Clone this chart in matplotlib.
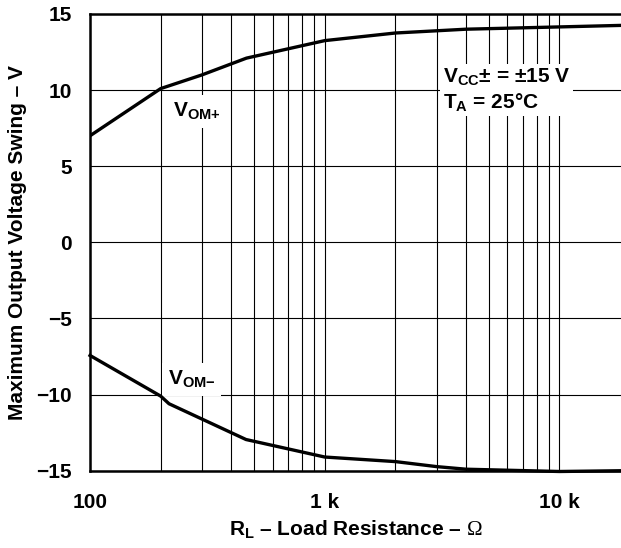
import matplotlib.pyplot as plt

plt.rcParams["font.family"] = ["Liberation Sans", "DejaVu Sans"]
plt.rcParams["font.weight"] = "bold"
plt.rcParams["mathtext.fontset"] = "custom"
plt.rcParams["mathtext.bf"] = "Liberation Sans:bold"
plt.rcParams["mathtext.rm"] = "Liberation Serif:normal"
plt.rcParams["mathtext.it"] = "Liberation Sans:bold"

# Load resistance (ohm) and output swing (V)
rl_pos = [100, 200, 300, 464, 1000, 2000, 4000, 10000, 18300]
vom_pos = [7.0, 10.1, 11.0, 12.1, 13.25, 13.75, 14.0, 14.15, 14.25]

rl_neg = [100, 200, 217, 462, 1000, 2000, 3000, 4000, 10000, 18300]
vom_neg = [-7.43, -10.1, -10.6, -12.95, -14.1, -14.4, -14.73, -14.9, -15.05, -15.0]

y_ticks = [-15, -10, -5, 0, 5, 10, 15]
y_labels = ["\u221215", "\u221210", "\u22125", "0", "5", "10", "15"]
x_ticks = [100, 1000, 10000]
x_labels = ["100", "1 k", "10 k"]

fig = plt.figure(figsize=(6.21, 5.48), dpi=100)
ax = fig.add_axes([0.145, 0.141, 0.855, 0.8335])

ax.plot(rl_pos, vom_pos, color="black", lw=2.4, zorder=3)
ax.plot(rl_neg, vom_neg, color="black", lw=2.4, zorder=3, clip_on=False)

ax.set_xscale("log")
ax.set_xlim(100, 18300)
ax.set_ylim(-15, 15)

ax.set_xticks(x_ticks)
ax.set_xticklabels(x_labels)
ax.set_yticks(y_ticks)
ax.set_yticklabels(y_labels)
ax.tick_params(axis="both", which="both", length=0, labelsize=15)
ax.tick_params(axis="x", pad=16)
ax.tick_params(axis="y", pad=13)
ax.minorticks_on()
ax.yaxis.set_minor_locator(plt.NullLocator())
ax.grid(True, which="both", axis="x", color="black", lw=0.8)
ax.grid(True, which="major", axis="y", color="black", lw=0.8)

for side in ["left", "bottom", "top"]:
    ax.spines[side].set_linewidth(1.8)
ax.spines["right"].set_visible(False)

ax.set_xlabel("$\\mathbf{R}_{\\mathbf{L}}$ \u2013 Load Resistance \u2013 $\\mathrm{\\Omega}$",
              fontsize=15, fontweight="bold", labelpad=5)
ax.set_ylabel("Maximum Output Voltage Swing \u2013 V", fontsize=15,
              fontweight="bold", labelpad=7)

box = dict(facecolor="white", edgecolor="none", pad=4)
ax.text(226, 8.6, "$\\mathbf{V}_{\\mathbf{OM{+}}}$", fontsize=15,
        va="center", ha="left", bbox=box, zorder=2)
ax.text(215, -9.0, "$\\mathbf{V}_{\\mathbf{OM{\u2212}}}$", fontsize=15,
        va="center", ha="left", bbox=box, zorder=2)
ax.text(3190, 10.0,
        "$\\mathbf{V}_{\\mathbf{CC}}$\u00b1 = \u00b115 V\n$\\mathbf{T}_{\\mathbf{A}}$ = 25\u00b0C",
        fontsize=15, fontweight="bold", va="center", ha="left",
        linespacing=1.2, bbox=dict(facecolor="white", edgecolor="none", pad=2), zorder=2)

fig.savefig("out.png", dpi=100)
